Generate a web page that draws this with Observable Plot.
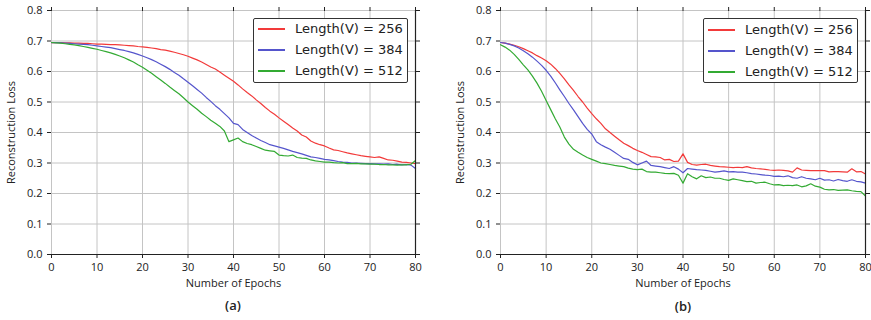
<!DOCTYPE html>
<html><head><meta charset="utf-8">
<script src="https://cdn.jsdelivr.net/npm/d3@7"></script>
<script src="https://cdn.jsdelivr.net/npm/@observablehq/plot@0.6"></script>
<style>
body{margin:0;background:#fff;}
#wrap{position:relative;width:871px;height:320px;overflow:hidden;font-family:"Open Sans",sans-serif;color:#222;}
.panel{position:absolute;top:0;}
.legend{position:absolute;background:#fff;border:1px solid #333;border-radius:2px;box-sizing:border-box;font-family:"DejaVu Sans",sans-serif;font-size:13px;color:#222;}
.legend .row{position:absolute;left:0;height:16px;line-height:16px;white-space:nowrap;}
.legend .sw{position:absolute;left:4px;top:7px;width:27px;height:0;border-top:2px solid;}
.legend .lb{position:absolute;left:41px;top:0;}
.cap{position:absolute;font-size:13px;font-weight:600;transform:translate(-50%,-50%);}
</style></head>
<body><div id="wrap"></div>
<script>
const epochs = d3.range(0, 81);
const xTicks = [0,10,20,30,40,50,60,70,80];
const yTicks = [0,0.1,0.2,0.3,0.4,0.5,0.6,0.7,0.8];
const names = ["Length(V) = 256","Length(V) = 384","Length(V) = 512"];
const colors = ["#f23a3a","#5555cc","#33aa33"];

const a256 = [0.695,0.695,0.695,0.694,0.694,0.693,0.693,0.692,0.692,0.691,0.690,
0.690,0.689,0.688,0.688,0.687,0.686,0.685,0.684,0.682,0.681,
0.679,0.677,0.675,0.672,0.670,0.667,0.663,0.659,0.655,0.650,
0.644,0.638,0.631,0.623,0.615,0.608,0.598,0.588,0.578,0.568,
0.556,0.543,0.531,0.520,0.507,0.495,0.482,0.470,0.460,0.448,
0.437,0.426,0.415,0.405,0.392,0.385,0.372,0.365,0.360,0.356,
0.349,0.343,0.341,0.337,0.333,0.330,0.327,0.324,0.322,0.320,
0.318,0.320,0.315,0.310,0.309,0.306,0.303,0.302,0.300,0.298];
const a384 = [0.695,0.695,0.694,0.693,0.692,0.691,0.690,0.689,0.688,0.686,0.684,
0.682,0.680,0.678,0.675,0.672,0.669,0.665,0.661,0.656,0.651,
0.645,0.639,0.632,0.624,0.616,0.607,0.597,0.588,0.576,0.565,
0.553,0.541,0.529,0.515,0.502,0.488,0.476,0.462,0.448,0.430,
0.426,0.410,0.400,0.390,0.382,0.374,0.367,0.360,0.356,0.352,
0.348,0.343,0.338,0.334,0.330,0.325,0.320,0.318,0.315,0.312,
0.310,0.308,0.305,0.303,0.302,0.300,0.300,0.299,0.298,0.298,
0.297,0.297,0.296,0.297,0.295,0.296,0.294,0.295,0.293,0.282];
const a512 = [0.695,0.694,0.693,0.691,0.689,0.687,0.685,0.682,0.679,0.676,0.673,
0.669,0.665,0.661,0.656,0.651,0.645,0.638,0.631,0.622,0.614,
0.604,0.594,0.583,0.572,0.561,0.549,0.538,0.527,0.514,0.500,
0.488,0.476,0.463,0.452,0.440,0.430,0.420,0.405,0.370,0.376,
0.382,0.370,0.364,0.360,0.354,0.348,0.342,0.340,0.338,0.326,
0.324,0.323,0.326,0.318,0.316,0.315,0.310,0.307,0.305,0.303,
0.303,0.301,0.300,0.301,0.298,0.298,0.299,0.297,0.297,0.296,
0.296,0.295,0.295,0.294,0.294,0.293,0.294,0.294,0.296,0.308];

const b256 = [0.695,0.693,0.690,0.686,0.681,0.675,0.668,0.661,0.652,0.644,0.635,
0.624,0.610,0.594,0.576,0.556,0.538,0.518,0.500,0.480,0.462,
0.445,0.430,0.412,0.400,0.388,0.376,0.365,0.357,0.348,0.341,
0.335,0.328,0.321,0.320,0.318,0.310,0.312,0.305,0.306,0.330,
0.302,0.295,0.293,0.295,0.296,0.292,0.290,0.288,0.287,0.286,
0.285,0.286,0.285,0.288,0.284,0.282,0.281,0.279,0.277,0.276,
0.277,0.276,0.274,0.270,0.284,0.277,0.276,0.275,0.275,0.275,
0.275,0.271,0.272,0.272,0.271,0.270,0.281,0.271,0.272,0.264];
const b384 = [0.695,0.693,0.689,0.684,0.677,0.668,0.658,0.647,0.634,0.620,0.604,
0.585,0.563,0.540,0.518,0.495,0.474,0.452,0.430,0.410,0.395,
0.370,0.360,0.352,0.345,0.335,0.325,0.315,0.312,0.302,0.294,
0.300,0.306,0.292,0.290,0.288,0.285,0.282,0.288,0.280,0.268,
0.282,0.280,0.278,0.277,0.276,0.273,0.270,0.272,0.274,0.271,
0.272,0.270,0.270,0.268,0.265,0.264,0.262,0.260,0.259,0.256,
0.257,0.255,0.258,0.252,0.250,0.255,0.250,0.248,0.245,0.250,
0.244,0.245,0.241,0.246,0.242,0.240,0.245,0.240,0.238,0.234];
const b512 = [0.688,0.680,0.670,0.656,0.640,0.622,0.605,0.585,0.562,0.535,0.505,
0.475,0.445,0.418,0.385,0.362,0.345,0.335,0.326,0.318,0.312,
0.306,0.300,0.298,0.295,0.292,0.290,0.288,0.283,0.280,0.278,
0.280,0.272,0.270,0.270,0.268,0.266,0.265,0.266,0.260,0.234,
0.265,0.255,0.248,0.258,0.252,0.254,0.250,0.250,0.246,0.243,
0.248,0.245,0.242,0.239,0.240,0.234,0.236,0.237,0.232,0.228,
0.229,0.226,0.227,0.226,0.228,0.222,0.225,0.232,0.224,0.221,
0.214,0.212,0.213,0.210,0.211,0.212,0.209,0.207,0.206,0.192];

function panel(series, width, marginRight) {
  const data = [];
  series.forEach((vals, k) => vals.forEach((v, i) => data.push({epoch: epochs[i], loss: v, series: names[k]})));
  return Plot.plot({
    width, height: 292, marginLeft: 51, marginRight, marginTop: 10, marginBottom: 38,
    style: {fontFamily: "'Open Sans', sans-serif", fontSize: "11px", color: "#222", background: "transparent"},
    x: {domain: [0, 80]},
    y: {domain: [0, 0.8]},
    color: {domain: names, range: colors},
    marks: [
      Plot.ruleX(xTicks, {stroke: "#c4c4c4", strokeWidth: 1}),
      Plot.ruleY(yTicks, {stroke: "#c4c4c4", strokeWidth: 1}),
      Plot.lineY(data, {x: "epoch", y: "loss", stroke: "series", strokeWidth: 1.2}),
      Plot.ruleY([0], {stroke: "#222", strokeWidth: 1.2}),
      Plot.ruleX([80], {stroke: "#222", strokeWidth: 1.2}),
      Plot.axisX({anchor: "bottom", ticks: xTicks, tickSize: 4, label: "Number of Epochs", labelAnchor: "center", labelArrow: "none", labelOffset: 32}),
      Plot.axisX({anchor: "top", ticks: xTicks, tickSize: 4, tickFormat: () => "", label: null}),
      Plot.axisY({anchor: "left", ticks: yTicks, tickSize: 4, tickFormat: d3.format(".1f"), label: "Reconstruction Loss", labelAnchor: "center", labelArrow: "none", labelOffset: 44}),
      Plot.axisY({anchor: "right", ticks: yTicks, tickSize: 4, tickFormat: () => "", label: null})
    ]
  });
}

function legend(left, top, rows) {
  const box = document.createElement("div");
  box.className = "legend";
  box.style.left = left + "px"; box.style.top = top + "px";
  box.style.width = "155px"; box.style.height = "65px";
  names.forEach((n, i) => {
    const r = document.createElement("div");
    r.className = "row";
    r.style.top = rows[i] + "px"; r.style.width = "150px";
    const sw = document.createElement("div"); sw.className = "sw"; sw.style.borderTopColor = colors[i];
    const lb = document.createElement("div"); lb.className = "lb"; lb.textContent = n;
    r.appendChild(sw); r.appendChild(lb);
    box.appendChild(r);
  });
  return box;
}

function caption(text, x, y) {
  const c = document.createElement("div");
  c.className = "cap"; c.textContent = text;
  c.style.left = x + "px"; c.style.top = y + "px";
  return c;
}

const wrap = document.getElementById("wrap");
const p1 = panel([a256, a384, a512], 449, 34);
p1.classList.add("panel"); p1.style.left = "0px";
const p2 = panel([b256, b384, b512], 422, 6);
p2.classList.add("panel"); p2.style.left = "449px";
wrap.appendChild(p1);
wrap.appendChild(p2);
wrap.appendChild(legend(253, 18, [2, 23, 44]));
wrap.appendChild(legend(703, 18, [3, 24, 45]));
wrap.appendChild(caption("(a)", 233, 305));
wrap.appendChild(caption("(b)", 683, 306));
</script>
</body></html>
